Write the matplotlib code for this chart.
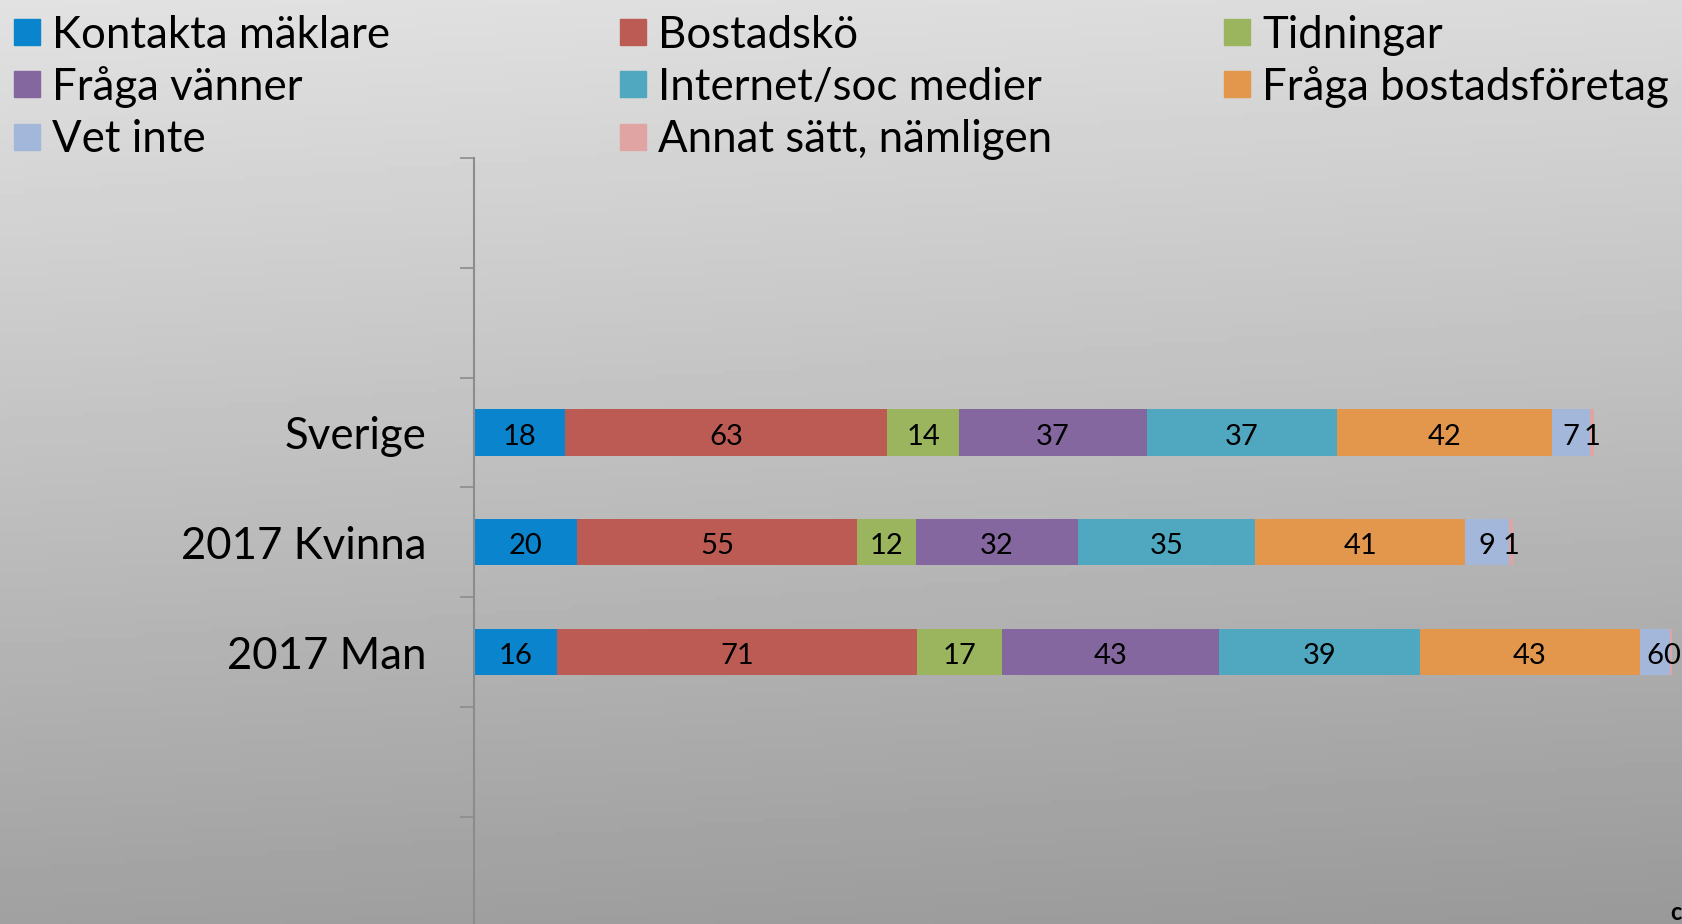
import matplotlib.pyplot as plt
import numpy as np
from matplotlib.patches import Rectangle

plt.rcParams['font.family'] = ['Lato', 'DejaVu Sans']

categories = ["Sverige", "2017 Kvinna", "2017 Man"]
series_names = ["Kontakta mäklare", "Bostadskö", "Tidningar", "Fråga vänner",
                "Internet/soc medier", "Fråga bostadsföretag", "Vet inte",
                "Annat sätt, nämligen"]
# values per series, order: Sverige, 2017 Kvinna, 2017 Man
kontakta = [17.9, 20.2, 16.2]
bostadsko = [63.0, 54.8, 70.6]
tidningar = [14.1, 11.6, 16.6]
vanner = [36.8, 31.6, 42.6]
internet = [37.2, 34.8, 39.2]
foretag = [42.2, 41.1, 43.2]
vet_inte = [7.4, 8.6, 5.9]
annat = [0.8, 0.8, 0.3]

series = [kontakta, bostadsko, tidningar, vanner, internet, foretag, vet_inte, annat]
colors = ["#0B84CE", "#BC5B54", "#9BB55E", "#8567A0",
          "#4FA8C0", "#E3974D", "#A3B7DA", "#E0A5A2"]

W, H = 1682, 924
fig = plt.figure(figsize=(W / 100, H / 100), dpi=100)

# background gradient
bg = fig.add_axes([0, 0, 1, 1])
yy, xx = np.mgrid[0:1:200j, 0:1:200j]
grad = 0.885 - 0.255 * yy - 0.03 * xx
bg.imshow(grad, cmap='gray', vmin=0, vmax=1, aspect='auto', extent=[0, 1, 1, 0])
bg.set_xlim(0, 1)
bg.set_ylim(1, 0)
bg.axis('off')

x0, top, slot = 474, 158, 109.8
nslots = 7
bottom = top + nslots * slot
ax = fig.add_axes([x0 / W, (H - bottom) / H, 1 - x0 / W, nslots * slot / H])
ax.patch.set_alpha(0)

ypos = [2, 3, 4]
left = np.zeros(len(categories))
for name, vals, c in zip(series_names, series, colors):
    bars = ax.barh(ypos, vals, left=left, height=0.42, color=c, label=name)
    txts = ax.bar_label(bars, labels=[f"{v:.0f}" for v in vals], label_type='center',
                        fontsize=21, color='black')
    for t in txts:
        t.xyann = (0, -3)
    left += np.array(vals)

ax.set_xlim(0, (W - x0) / 5.106)
ax.set_ylim(nslots - 0.5, -0.5)
ax.set_yticks(ypos, labels=categories, fontsize=31.5)
ax.tick_params(axis='y', which='major', length=0, pad=34)
ax.set_yticks(np.arange(-0.5, nslots, 1), minor=True)
ax.tick_params(axis='y', which='minor', length=10, width=1.2, color='#8c8c8c')
ax.set_xticks([])
for s in ['top', 'right', 'bottom']:
    ax.spines[s].set_visible(False)
ax.spines['left'].set_color('#8c8c8c')
ax.spines['left'].set_linewidth(1.5)

# legend laid out in three columns, row by row
col_x = [14, 620, 1224]
row_y = [32, 84, 137]
for i, (name, c) in enumerate(zip(series_names, colors)):
    r, k = divmod(i, 3)
    mx, my = col_x[k], row_y[r]
    fig.add_artist(Rectangle((mx / W, (H - my - 13) / H), 26 / W, 26 / H,
                             color=c, transform=fig.transFigure))
    fig.text((mx + 38) / W, (H - my - 3) / H, name, fontsize=31.5, va='center', ha='left')

fig.text(1670 / W, 0.0, "c", fontsize=17, fontweight='bold', va='bottom', ha='left')

fig.savefig("out.png", dpi=100)
